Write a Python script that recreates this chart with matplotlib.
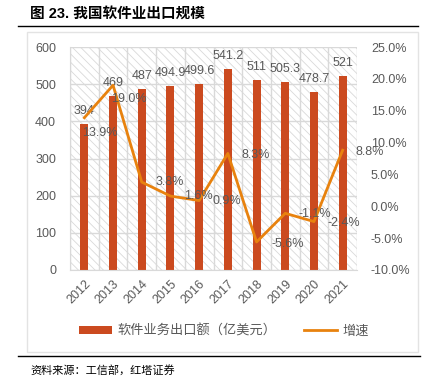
import matplotlib.pyplot as plt
from matplotlib.patches import Rectangle
from matplotlib.lines import Line2D
from matplotlib.ticker import FuncFormatter, MultipleLocator
import numpy as np

plt.rcParams['font.family'] = ['Liberation Sans', 'Noto Sans CJK SC', 'DejaVu Sans']
plt.rcParams['hatch.linewidth'] = 0.6

years = ['2012', '2013', '2014', '2015', '2016', '2017', '2018', '2019', '2020', '2021']
exports = [394, 469, 487, 494.9, 499.6, 541.2, 511, 505.3, 478.7, 521]
export_labels = ['394', '469', '487', '494.9', '499.6', '541.2', '511', '505.3', '478.7', '521']
growth = [13.9, 19.0, 3.8, 1.6, 0.9, 8.3, -5.6, -1.1, -2.4, 8.8]

bar_color = '#CB4A1F'
line_color = '#E8820E'
text_grey = '#595959'
grid_grey = '#D9D9D9'

fig = plt.figure(figsize=(4.23, 3.82), dpi=100)

# frame lines and box
fig.add_artist(Line2D([18/423, 418/423], [1 - 26/382, 1 - 26/382], color='black', lw=1))
fig.add_artist(Line2D([18/423, 420/423], [1 - 356/382, 1 - 356/382], color='black', lw=1))
fig.add_artist(Rectangle((27/423, 1 - 352/382), 391/423, 320/382, transform=fig.transFigure,
                         facecolor='none', edgecolor='#E3E3E3', lw=1))
fig.text(30/423, 1 - 14/382, '图 23. 我国软件业出口规模', fontsize=10.5, fontweight='bold',
         va='center', ha='left', family=['Liberation Sans', 'Noto Sans CJK SC'])
fig.text(30/423, 1 - 370/382, '资料来源：工信部，红塔证券', fontsize=8, va='center', ha='left',
         family=['Noto Sans CJK SC'])

ax = fig.add_axes([70/423, 1 - 270/382, 287/423, 223/382])
x = np.arange(len(years))

ax.add_patch(Rectangle((0, 0), 1, 1, transform=ax.transAxes, facecolor='white',
                       edgecolor=grid_grey, hatch='\\\\\\\\', lw=0, zorder=0))
ax.set_xlim(-0.5, len(years) - 0.5)
ax.set_ylim(0, 600)
ax.yaxis.set_major_locator(MultipleLocator(100))
ax.set_xticks(x)
ax.set_xticks(np.arange(-0.5, len(years), 1), minor=True)
ax.grid(True, axis='y', color=grid_grey, lw=1, zorder=1)
ax.grid(True, axis='x', which='minor', color=grid_grey, lw=1, zorder=1)
ax.set_axisbelow(True)

bars = ax.bar(x, exports, width=0.28, color=bar_color, zorder=2)
for xi, v, lab in zip(x, exports, export_labels):
    ax.annotate(lab, (xi, v), xytext=(0, 5), textcoords='offset points', ha='center',
                va='bottom', fontsize=9, color=text_grey, zorder=5)

ax.set_xticklabels(years, rotation=45, ha='right', rotation_mode='anchor', fontsize=9,
                   color=text_grey)
ax.tick_params(axis='both', which='both', length=0)
ax.tick_params(axis='y', labelsize=9, labelcolor=text_grey, pad=10)
ax.tick_params(axis='x', pad=6)
for s in ['top', 'right']:
    ax.spines[s].set_visible(False)
ax.spines['left'].set_color(grid_grey)
ax.spines['bottom'].set_color(grid_grey)

ax2 = ax.twinx()
ax2.set_ylim(-10, 25)
ax2.yaxis.set_major_locator(MultipleLocator(5))
ax2.yaxis.set_major_formatter(FuncFormatter(lambda v, p: f'{v:.1f}%'))
ax2.tick_params(axis='y', length=0, labelsize=9, labelcolor=text_grey, pad=10)
for s in ax2.spines.values():
    s.set_visible(False)
ax2.plot(x, growth, color=line_color, lw=2, zorder=3)
offsets = [(15, -15), (16, -14), (28, 0), (28, 0), (28, 0), (28, -2), (31, -2), (30, -1), (30, -1), (27, -2)]
for xi, g, off in zip(x, growth, offsets):
    ax2.annotate(f'{g:.1f}%', (xi, g), xytext=off, textcoords='offset pixels', ha='center',
                 va='center', fontsize=9, color=text_grey, zorder=5)

handles = [Rectangle((0, 0), 1, 1, facecolor=bar_color),
           Line2D([0], [0], color=line_color, lw=2)]
fig.legend(handles, ['软件业务出口额（亿美元）', '增速'], loc='center', bbox_to_anchor=(0.53, 1 - 331/382),
           ncol=2, frameon=False, labelcolor=text_grey, handlelength=2.5, handleheight=0.5,
           handletextpad=0.4, columnspacing=2.1, prop={'family': ['Noto Sans CJK SC'], 'size': 9.5})

fig.savefig('out.png', dpi=100)
